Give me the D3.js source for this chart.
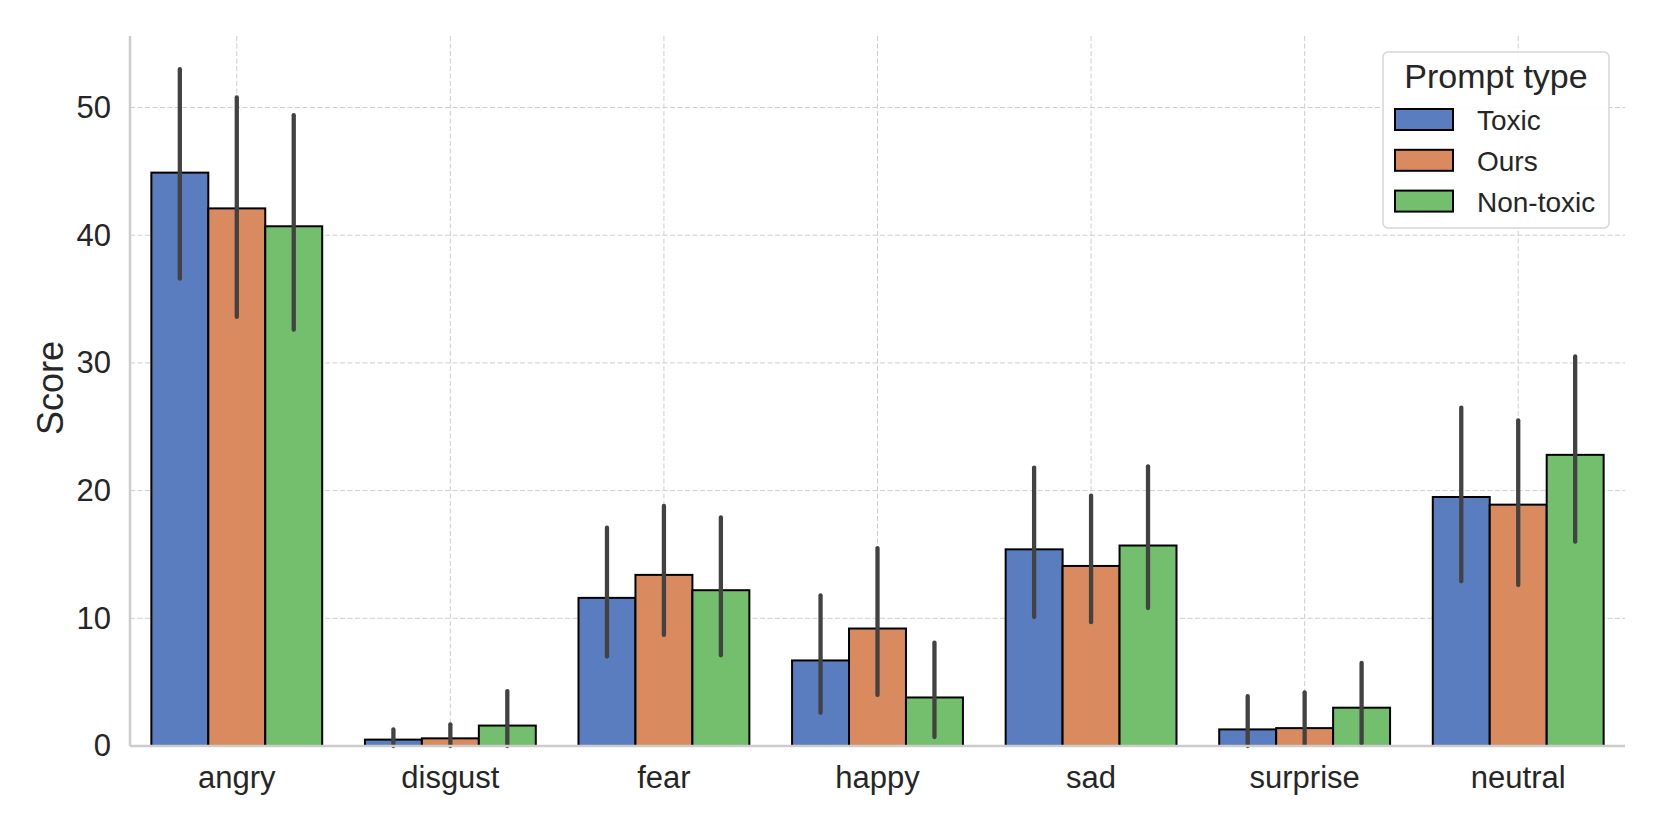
<!DOCTYPE html>
<html lang="en">
<head>
  <meta charset="utf-8">
  <title>Score by emotion and prompt type</title>
  <style>
body {
  margin: 0;
  background: #fff;
  font-family: "Liberation Sans", Arial, sans-serif;
}
  </style>
  <script src="https://d3js.org/d3.v7.min.js"></script>
</head>
<body>
<div id="chart"></div>
<script>

// data
var categories = ['angry', 'disgust', 'fear', 'happy', 'sad', 'surprise', 'neutral'];
var seriesNames = ['Toxic', 'Ours', 'Non-toxic'];

var toxic    = [44.9, 0.5, 11.6, 6.7, 15.4, 1.3, 19.5];
var ours     = [42.1, 0.6, 13.4, 9.2, 14.1, 1.4, 18.9];
var nontoxic = [40.7, 1.6, 12.2, 3.8, 15.7, 3.0, 22.8];

// error bar ends (low / high)
var toxicLo    = [36.6, 0, 7.0, 2.6, 10.1, 0, 12.9];
var toxicHi    = [53.0, 1.3, 17.1, 11.8, 21.8, 3.9, 26.5];
var oursLo     = [33.6, 0, 8.7, 4.0, 9.7, 0.1, 12.6];
var oursHi     = [50.8, 1.7, 18.8, 15.5, 19.6, 4.2, 25.5];
var nontoxicLo = [32.6, 0, 7.1, 0.7, 10.8, 0.2, 16.0];
var nontoxicHi = [49.4, 4.3, 17.9, 8.1, 21.9, 6.5, 30.5];

var yTicks = [0, 10, 20, 30, 40, 50];

var colors = ['#5a7dbf', '#d98a5e', '#74bf6e'];

var values = [toxic, ours, nontoxic];
var lows = [toxicLo, oursLo, nontoxicLo];
var highs = [toxicHi, oursHi, nontoxicHi];

var W = 1661, H = 830;
var mLeft = 130, mRight = 1625, mTop = 36, mBottom = 746;
var textColor = '#262626';
var font = '"Liberation Sans", Arial, sans-serif';

var svg = d3.select('#chart').append('svg')
  .attr('width', W)
  .attr('height', H);

var x = d3.scaleBand()
  .domain(categories)
  .range([mLeft, mRight])
  .paddingInner(0.2)
  .paddingOuter(0.1);

var xs = d3.scaleBand()
  .domain(seriesNames)
  .range([0, x.bandwidth()]);

var y = d3.scaleLinear()
  .domain([0, 55.6])
  .range([mBottom, mTop]);

// grid
var grid = svg.append('g');
grid.selectAll('line.gy')
  .data(yTicks)
  .enter().append('line')
  .attr('x1', mLeft).attr('x2', mRight)
  .attr('y1', function(d) { return y(d); })
  .attr('y2', function(d) { return y(d); })
  .attr('stroke', '#cfcfcf')
  .attr('stroke-width', 1)
  .attr('stroke-dasharray', '5,2.5');

grid.selectAll('line.gx')
  .data(categories)
  .enter().append('line')
  .attr('x1', function(d) { return x(d) + x.bandwidth() / 2; })
  .attr('x2', function(d) { return x(d) + x.bandwidth() / 2; })
  .attr('y1', mTop).attr('y2', mBottom)
  .attr('stroke', '#cfcfcf')
  .attr('stroke-width', 1)
  .attr('stroke-dasharray', '5,2.5');

// bars
seriesNames.forEach(function(s, si) {
  var g = svg.append('g');
  g.selectAll('rect')
    .data(categories)
    .enter().append('rect')
    .attr('x', function(d) { return x(d) + xs(s); })
    .attr('width', xs.bandwidth())
    .attr('y', function(d, i) { return y(values[si][i]); })
    .attr('height', function(d, i) { return y(0) - y(values[si][i]); })
    .attr('fill', colors[si])
    .attr('stroke', '#000')
    .attr('stroke-width', 2);
});

// error bars
seriesNames.forEach(function(s, si) {
  svg.append('g').selectAll('line')
    .data(categories)
    .enter().append('line')
    .attr('x1', function(d) { return x(d) + xs(s) + xs.bandwidth() / 2; })
    .attr('x2', function(d) { return x(d) + xs(s) + xs.bandwidth() / 2; })
    .attr('y1', function(d, i) { return y(lows[si][i]); })
    .attr('y2', function(d, i) { return y(highs[si][i]); })
    .attr('stroke', '#424242')
    .attr('stroke-width', 4.3)
    .attr('stroke-linecap', 'round');
});

// axes
var xAxis = svg.append('g')
  .attr('transform', 'translate(0,' + mBottom + ')')
  .call(d3.axisBottom(x).tickSize(0).tickPadding(20));
xAxis.select('.domain').attr('stroke', '#cccccc').attr('stroke-width', 2.5)
  .attr('d', 'M' + mLeft + ',0H' + mRight);
xAxis.selectAll('text')
  .attr('fill', textColor)
  .style('font-size', '31px')
  .style('font-family', font);

var yAxis = svg.append('g')
  .attr('transform', 'translate(' + mLeft + ',0)')
  .call(d3.axisLeft(y).tickValues(yTicks).tickSize(0).tickPadding(19));
yAxis.select('.domain').attr('stroke', '#cccccc').attr('stroke-width', 2.5)
  .attr('d', 'M0,' + mTop + 'V' + mBottom);
yAxis.selectAll('text')
  .attr('fill', textColor)
  .style('font-size', '31px')
  .style('font-family', font);

svg.append('text')
  .attr('transform', 'translate(63,388) rotate(-90)')
  .attr('text-anchor', 'middle')
  .attr('fill', textColor)
  .style('font-size', '36px')
  .text('Score');

// legend
var leg = svg.append('g');
leg.append('rect')
  .attr('x', 1383).attr('y', 52)
  .attr('width', 226).attr('height', 176)
  .attr('rx', 5)
  .attr('fill', '#fff')
  .attr('fill-opacity', 0.9)
  .attr('stroke', '#d6d6d6')
  .attr('stroke-width', 1.5);

leg.append('text')
  .attr('x', 1496).attr('y', 88)
  .attr('text-anchor', 'middle')
  .attr('fill', textColor)
  .style('font-size', '34px')
  .text('Prompt type');

seriesNames.forEach(function(s, si) {
  leg.append('rect')
    .attr('x', 1395).attr('y', 109 + si * 40.8)
    .attr('width', 58).attr('height', 21)
    .attr('fill', colors[si])
    .attr('stroke', '#000')
    .attr('stroke-width', 2);
  leg.append('text')
    .attr('x', 1477).attr('y', 130 + si * 40.8)
    .attr('fill', textColor)
    .style('font-size', '28px')
    .text(s);
});

</script>
</body>
</html>
